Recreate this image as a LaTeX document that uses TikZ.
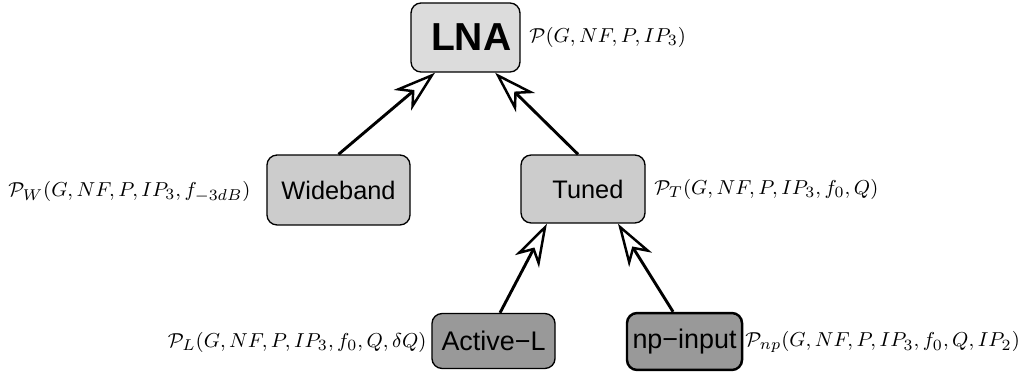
\documentclass[tikz,border=0pt]{standalone}
\usepackage{fontspec}
\setsansfont{Liberation Sans}
\usetikzlibrary{arrows.meta}
\definecolor{fillA}{RGB}{220,220,220}
\definecolor{fillB}{RGB}{204,204,204}
\definecolor{fillC}{RGB}{153,153,153}
\tikzset{
  box/.style={draw=black, line width=0.6pt, rounded corners=4.5pt, inner sep=0pt,
    font=\sffamily\fontsize{11.3}{13}\selectfont},
  leaf/.style={box, fill=fillC, minimum height=24.5pt, font=\sffamily\fontsize{12}{14}\selectfont},
  lbl/.style={inner sep=0pt, font=\fontsize{9.5}{11}\selectfont},
  arr/.style={line width=1.3pt, -{Stealth[open, length=19pt, width=12pt, inset=5.5pt, line width=1.1pt]}}
}
\begin{document}
\begin{tikzpicture}[x=0.446pt, y=-0.446pt]
\useasboundingbox (0,0) rectangle (1025,372);
\node[box, fill=fillA, minimum width=48.6pt, minimum height=30.8pt,
      font=\sffamily\bfseries\fontsize{17.4}{20}\selectfont] (lna) at (465.5,37.5) {\hspace*{5pt}LNA};
\node[box, fill=fillB, minimum width=63.8pt, minimum height=31.2pt] (wide) at (338.5,190) {Wideband};
\node[box, fill=fillB, minimum width=55.3pt, minimum height=30.3pt] (tuned) at (583,189) {\hspace*{4.4pt}Tuned};
\node[leaf, minimum width=54.9pt] (act) at (493.5,341) {Active−L};
\node[leaf, line width=1.1pt, minimum width=51.3pt, minimum height=25.4pt] (np) at (684.5,341.5) {np−input};

\node[lbl, anchor=west] (plna) at (529,37) {$\mathcal{P}(G,NF,P,IP_3)$};
\node[lbl, anchor=east] (pw) at (251,192) {$\mathcal{P}_W(G,NF,P,IP_3,f_{-3dB})$};
\node[lbl, anchor=west] (pt) at (654,189) {$\mathcal{P}_T(G,NF,P,IP_3,f_0,Q)$};
\node[lbl, anchor=east] (pl) at (427,342) {$\mathcal{P}_L(G,NF,P,IP_3,f_0,Q,\delta Q)$};
\node[lbl, anchor=west] (pnp) at (745,342) {$\mathcal{P}_{np}(G,NF,P,IP_3,f_0,Q,IP_2)$};

\draw[arr] (wide.north) -- ([xshift=-13.6pt]lna.south);
\draw[arr] ([xshift=-2.2pt]tuned.north) -- ([xshift=13.2pt]lna.south);
\draw[arr] ([xshift=2.9pt]act.north) -- ([xshift=-16.1pt]tuned.south);
\draw[arr] ([xshift=-5.1pt]np.north) -- ([xshift=15.6pt]tuned.south);
\end{tikzpicture}
\end{document}
